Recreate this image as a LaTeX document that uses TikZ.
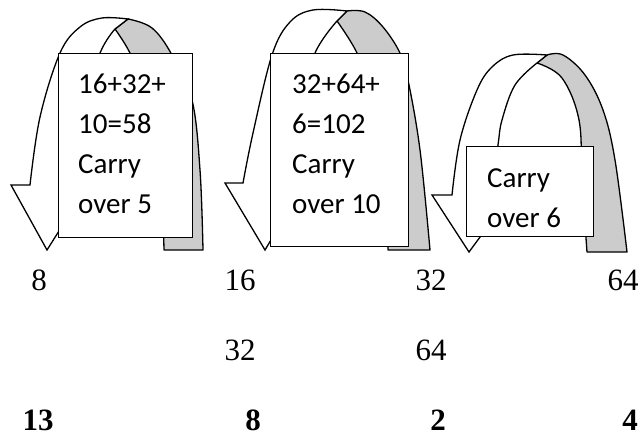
\documentclass[tikz,border=0pt]{standalone}
\usepackage{fontspec}
\newfontfamily\boxfont{Carlito}
\newfontfamily\numfont{Liberation Serif}
\begin{document}
\begin{tikzpicture}[x=1pt,y=-1pt,
  backband/.style={fill=black!20, draw=black, line width=1.3pt, line join=round},
  frontband/.style={fill=white, draw=black, line width=1.3pt, line join=miter},
  cbox/.style={draw=black, fill=white, line width=1.3pt, inner sep=0pt, anchor=north west},
  boxtext/.style={inner sep=0pt, anchor=base west, font=\boxfont\fontsize{29}{40}\selectfont},
  num/.style={inner sep=0pt, anchor=base, font=\numfont\fontsize{31}{36}\selectfont},
  numb/.style={num, font=\numfont\bfseries\fontsize{31}{36}\selectfont}]
\useasboundingbox (0,0) rectangle (642,436);

% ---- arrow 1
\filldraw[backband] plot[smooth, tension=0.6] coordinates {(128,19) (152,28) (172,55) (192,100) (200,170) (203,250)}
  -- plot[smooth, tension=0.6] coordinates {(164,250) (160,160) (148,95) (130,53) (115,29)} -- cycle;
\filldraw[frontband] plot[smooth, tension=0.6] coordinates {(30,185) (40,117) (60,53) (80,27) (102,18) (128,19)}
  -- plot[smooth, tension=0.6] coordinates {(115,29) (100,53) (82,110) (72,185)}
  -- (88,185) -- (47,250) -- (11,185) -- cycle;
\node[cbox, minimum width=134pt, minimum height=184pt] (b1) at (58,53) {};
\node[boxtext] (t1) at (78,93) {\parbox[t]{4cm}{16+32+\\10=58\\Carry\\over 5}};

% ---- arrow 2
\filldraw[backband] plot[smooth, tension=0.6] coordinates {(347,11) (365,12) (383,27) (400,53) (408,80) (420,150) (430,250)}
  -- plot[smooth, tension=0.6] coordinates {(388,250) (383,160) (372,95) (357,53) (337,21)} -- cycle;
\filldraw[frontband] plot[smooth, tension=0.6] coordinates {(243,183) (253,133) (272,55) (290,22) (313,10) (347,11)}
  -- plot[smooth, tension=0.6] coordinates {(337,21) (315,53) (298,110) (287,183)}
  -- (305,183) -- (265,250) -- (225,183) -- cycle;
\node[cbox, minimum width=138pt, minimum height=193pt] (b2) at (270,53) {};
\node[boxtext] (t2) at (292,93) {\parbox[t]{4cm}{32+64+\\6=102\\Carry\\over 10}};

% ---- arrow 3
\filldraw[backband] plot[smooth, tension=0.6] coordinates {(547,55) (563,55) (585,75) (603,110) (615,160) (627,252)}
  -- plot[smooth, tension=0.6] coordinates {(587,252) (582,180) (579,120) (562,78) (537,63)} -- cycle;
\filldraw[frontband] plot[smooth, tension=0.6] coordinates {(452,195) (460,140) (477,90) (492,67) (513,55) (547,55)}
  -- plot[smooth, tension=0.6] coordinates {(537,63) (515,85) (502,120) (498,145) (491,195)}
  -- (511,195) -- (469,252) -- (432,195) -- cycle;
\node[cbox, minimum width=127pt, minimum height=90pt] (b3) at (466,146) {};
\node[boxtext] (t3) at (487,187) {\parbox[t]{4cm}{Carry\\over 6}};

% ---- numbers
\node[num] (r1a) at (39,290) {8};
\node[num] (r1b) at (240,290) {16};
\node[num] (r1c) at (431,290) {32};
\node[num] (r1d) at (623,290) {64};
\node[num] (r2b) at (240,360) {32};
\node[num] (r2c) at (431,360) {64};
\node[numb] (r3a) at (38,430) {13};
\node[numb] (r3b) at (253,430) {8};
\node[numb] (r3c) at (438,430) {2};
\node[numb] (r3d) at (630,430) {4};
\end{tikzpicture}
\end{document}
